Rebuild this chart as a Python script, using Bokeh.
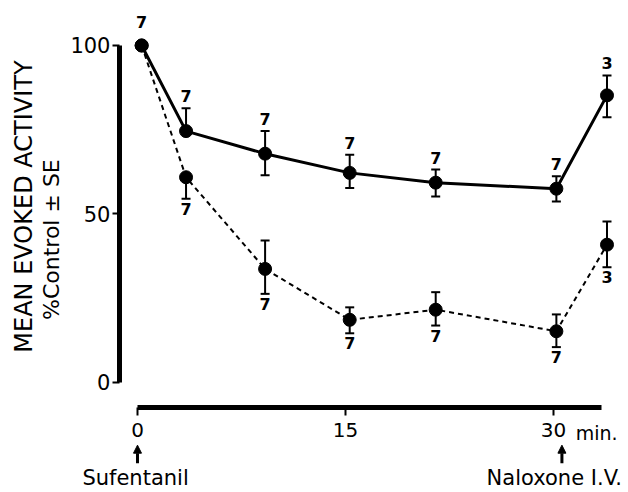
import math
from bokeh.plotting import figure
from bokeh.models import FixedTicker, Arrow, NormalHead, Range1d
from bokeh.embed import file_html
from bokeh.resources import INLINE
from bokeh.core.properties import value

# ---- data ----
time_min = [0.3, 3.5, 9.2, 15.3, 21.5, 30.2, 33.85]

solid_mean = [100, 74.6, 67.9, 62.2, 59.3, 57.5, 85.2]
solid_err_up = [0, 6.8, 6.7, 5.4, 3.9, 3.7, 5.9]
solid_err_down = [0, 0, 6.4, 4.5, 4.1, 3.8, 6.5]
solid_n = ["7", "7", "7", "7", "7", "7", "3"]

dashed_mean = [100, 60.9, 33.7, 18.6, 21.6, 15.2, 40.9]
dashed_err_up = [0, 0, 8.4, 3.7, 5.2, 5.0, 6.9]
dashed_err_down = [0, 6.4, 7.4, 4.0, 4.7, 4.7, 6.7]
dashed_n = ["7", "7", "7", "7", "7", "7", "3"]

x_ticks = [0, 15, 30]
y_ticks = [0, 50, 100]
sufentanil_time = 0
naloxone_time = 30.6

FONT = "DejaVu Sans"

p = figure(width=626, height=490,
           x_range=Range1d(-9.877, 35.256), y_range=Range1d(-32.05, 113.35),
           output_backend="svg", toolbar_location=None,
           min_border_left=0, min_border_right=0,
           min_border_top=0, min_border_bottom=0)
p.title.visible = False
p.outline_line_color = None
p.xgrid.visible = False
p.ygrid.visible = False
p.background_fill_color = "white"
p.border_fill_color = "white"

# axes (placed inside the frame at fixed locations)
for ax in (p.xaxis[0], p.yaxis[0]):
    ax.axis_line_width = 5
    ax.axis_line_color = "black"
    ax.major_tick_line_width = 2
    ax.major_tick_line_color = "black"
    ax.major_tick_in = 0
    ax.minor_tick_line_color = None
    ax.major_label_text_font = FONT
    ax.major_label_text_color = "black"

p.xaxis.ticker = FixedTicker(ticks=x_ticks)
p.xaxis.bounds = (0, 33.45)
p.xaxis.fixed_location = -7.42
p.xaxis.major_tick_out = 8
p.xaxis.major_label_standoff = 8
p.xaxis.major_label_text_font_size = "20px"

p.yaxis.ticker = FixedTicker(ticks=y_ticks)
p.yaxis.bounds = (0, 100)
p.yaxis.fixed_location = -1.30
p.yaxis.major_tick_out = 7
p.yaxis.major_label_standoff = 2
p.yaxis.major_label_text_font_size = "21px"

def hi(m, e):
    return [a + b for a, b in zip(m, e)]

def lo(m, e):
    return [a - b for a, b in zip(m, e)]

# lines
p.line(time_min, solid_mean, line_color="black", line_width=3)
p.line(time_min, dashed_mean, line_color="black", line_width=2, line_dash="5 4")

# error bars
for mean, up, down in ((solid_mean, solid_err_up, solid_err_down),
                       (dashed_mean, dashed_err_up, dashed_err_down)):
    top = hi(mean, up)
    bot = lo(mean, down)
    p.segment(x0=time_min, y0=bot, x1=time_min, y1=top, line_color="black", line_width=2)
    tx = [t for t, e in zip(time_min, up) if e > 0]
    ty = [v for v, e in zip(top, up) if e > 0]
    p.scatter(tx, ty, marker="dash", size=9, line_width=2, line_color="black")
    bx = [t for t, e in zip(time_min, down) if e > 0]
    by = [v for v, e in zip(bot, down) if e > 0]
    p.scatter(bx, by, marker="dash", size=9, line_width=2, line_color="black")

# markers
p.scatter(time_min, solid_mean, size=13, fill_color="black", line_color="black")
p.scatter(time_min, dashed_mean, size=13, fill_color="black", line_color="black")

# n labels
s_top = hi(solid_mean, solid_err_up)
p.text(time_min[:1], s_top[:1], text=solid_n[:1], text_align="center", text_baseline="bottom",
       y_offset=-17, text_font=value(FONT), text_font_style="bold", text_font_size="16px")
p.text(time_min[1:], s_top[1:], text=solid_n[1:], text_align="center", text_baseline="bottom",
       y_offset=-6, text_font=value(FONT), text_font_style="bold", text_font_size="16px")
d_bot = lo(dashed_mean, dashed_err_down)
p.text(time_min[1:], d_bot[1:], text=dashed_n[1:], text_align="center", text_baseline="top",
       y_offset=4, text_font=value(FONT), text_font_style="bold", text_font_size="16px")

# y axis title (two lines)
p.text(x=[-8.15], y=[52.2], text=["MEAN EVOKED ACTIVITY"], angle=math.pi / 2,
       text_align="center", text_baseline="middle", text_font=value(FONT),
       text_font_size="24px", text_color="black")
p.text(x=[-6.2], y=[42.4], text=["%Control \u00b1 SE"], angle=math.pi / 2,
       text_align="center", text_baseline="middle", text_font=value(FONT),
       text_font_size="22px", text_color="black")

# x annotations
p.text(x=[33.1], y=[-15.1], text=["min."], text_align="center", text_baseline="middle",
       text_font=value(FONT), text_font_size="19px", text_color="black")
p.text(x=[sufentanil_time - 0.14, naloxone_time - 0.55], y=[-28.2, -28.2],
       text=["Sufentanil", "Naloxone I.V."], text_align="center", text_baseline="middle",
       text_font=value(FONT), text_font_size="21px", text_color="black")
for t in (sufentanil_time, naloxone_time):
    p.add_layout(Arrow(end=NormalHead(size=8, fill_color="black", line_color="black", line_width=1),
                       x_start=t, y_start=-24.0, x_end=t, y_end=-18.6,
                       line_width=3, line_color="black"))

open("out.html", "w").write(file_html(p, INLINE))
